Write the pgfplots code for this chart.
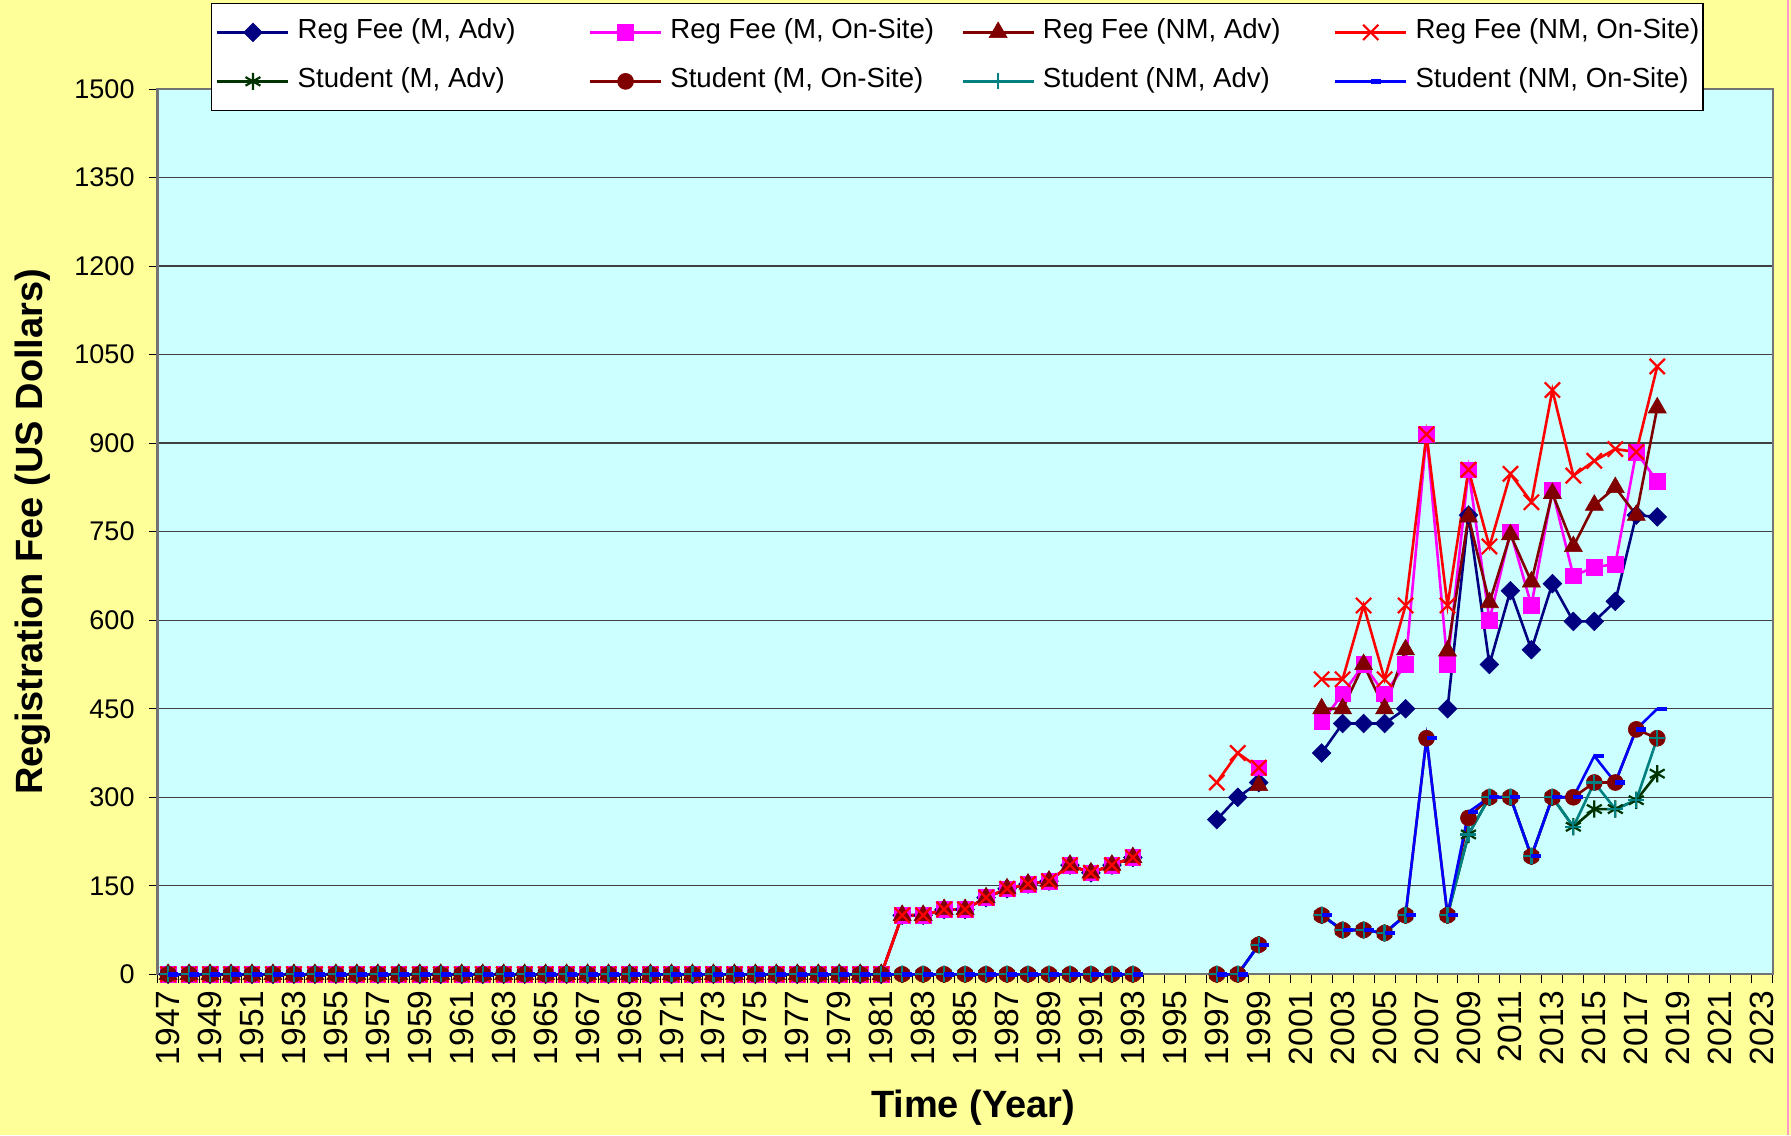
\documentclass[border=0pt]{standalone}
\usepackage{fontspec}
\setmainfont{Liberation Sans}
\usepackage{pgfplots}
\usepackage{pgfplotstable}
\pgfplotsset{compat=1.18}
\definecolor{bgyel}{HTML}{FFFF99}
\definecolor{plotbg}{HTML}{CCFFFF}
\definecolor{cnavy}{HTML}{000080}
\definecolor{cmag}{HTML}{FF00FF}
\definecolor{cmar}{HTML}{800000}
\definecolor{cred}{HTML}{FF0000}
\definecolor{cdg}{HTML}{003300}
\definecolor{cteal}{HTML}{008080}
\definecolor{cblue}{HTML}{0000FF}
\definecolor{cpink}{HTML}{FF99CC}
\pgfplotstableread{
year rma rmo rna rno sma smo sna sno
1947 0 0 0 0 0 0 0 0
1948 0 0 0 0 0 0 0 0
1949 0 0 0 0 0 0 0 0
1950 0 0 0 0 0 0 0 0
1951 0 0 0 0 0 0 0 0
1952 0 0 0 0 0 0 0 0
1953 0 0 0 0 0 0 0 0
1954 0 0 0 0 0 0 0 0
1955 0 0 0 0 0 0 0 0
1956 0 0 0 0 0 0 0 0
1957 0 0 0 0 0 0 0 0
1958 0 0 0 0 0 0 0 0
1959 0 0 0 0 0 0 0 0
1960 0 0 0 0 0 0 0 0
1961 0 0 0 0 0 0 0 0
1962 0 0 0 0 0 0 0 0
1963 0 0 0 0 0 0 0 0
1964 0 0 0 0 0 0 0 0
1965 0 0 0 0 0 0 0 0
1966 0 0 0 0 0 0 0 0
1967 0 0 0 0 0 0 0 0
1968 0 0 0 0 0 0 0 0
1969 0 0 0 0 0 0 0 0
1970 0 0 0 0 0 0 0 0
1971 0 0 0 0 0 0 0 0
1972 0 0 0 0 0 0 0 0
1973 0 0 0 0 0 0 0 0
1974 0 0 0 0 0 0 0 0
1975 0 0 0 0 0 0 0 0
1976 0 0 0 0 0 0 0 0
1977 0 0 0 0 0 0 0 0
1978 0 0 0 0 0 0 0 0
1979 0 0 0 0 0 0 0 0
1980 0 0 0 0 0 0 0 0
1981 0 0 0 0 0 0 0 0
1982 100 100 100 100 0 0 0 0
1983 100 100 100 100 0 0 0 0
1984 110 110 110 110 0 0 0 0
1985 110 110 110 110 0 0 0 0
1986 130 130 130 130 0 0 0 0
1987 145 145 145 145 0 0 0 0
1988 153 153 153 153 0 0 0 0
1989 158 158 158 158 0 0 0 0
1990 185 185 185 185 0 0 0 0
1991 172 172 172 172 0 0 0 0
1992 185 185 185 185 0 0 0 0
1993 198 198 198 198 0 0 0 0
1994 nan nan nan nan nan nan nan nan
1997 262 nan nan 325 0 0 0 0
1998 300 nan nan 375 0 0 0 0
1999 325 350 320 350 50 50 50 50
2000 nan nan nan nan nan nan nan nan
2002 375 428 450 500 100 100 100 100
2003 425 475 450 500 75 75 75 75
2004 425 525 525 625 75 75 75 75
2005 425 475 450 500 70 70 70 70
2006 450 525 550 625 100 100 100 100
2007 nan 915 nan 915 nan 400 nan 400
2008 450 525 548 625 100 100 100 100
2009 778 855 775 855 237 265 237 275
2010 525 600 630 725 300 300 300 300
2011 650 750 745 848 300 300 300 300
2012 550 625 665 800 200 200 200 200
2013 662 820 815 990 300 300 300 300
2014 598 675 725 845 250 300 250 300
2015 598 690 795 870 280 325 325 370
2016 632 695 825 890 280 325 280 325
2017 778 885 778 885 295 415 295 415
2018 775 835 960 1030 340 400 400 450
}\data
\begin{document}
\begin{tikzpicture}
\path[use as bounding box, fill=bgyel] (-78.8pt,-80.35pt) rectangle (816.7pt,487.15pt);
\draw[cpink, line width=1pt] (815.2pt,-80.35pt) -- (815.2pt,487.15pt);
\begin{axis}[
  at={(0pt,0pt)}, anchor=south west,
  scale only axis, width=807.5pt, height=442.6pt,
  xmin=1946.5, xmax=2023.5, ymin=0, ymax=1500,
  clip=false,
  unbounded coords=jump,
  axis background/.style={fill=plotbg},
  axis line style={draw=black!55, line width=1.1pt},
  tick pos=left, tick align=outside, major tick length=4.5pt,
  tick style={black, line width=0.5pt},
  ytick={0,150,...,1500},
  ymajorgrids, grid style={black!75, line width=0.7pt},
  xtick={1946.5,1947.5,...,2023.5},
  x tick label as interval,
  xticklabels={1947,,1949,,1951,,1953,,1955,,1957,,1959,,1961,,1963,,1965,,1967,,1969,,1971,,1973,,1975,,1977,,1979,,1981,,1983,,1985,,1987,,1989,,1991,,1993,,1995,,1997,,1999,,2001,,2003,,2005,,2007,,2009,,2011,,2013,,2015,,2017,,2019,,2021,,2023},
  xticklabel style={rotate=90, anchor=east, font=\fontsize{16.8}{18}\selectfont},
  yticklabel style={font=\fontsize{13.5}{16}\selectfont, xshift=-3.5pt},
  /pgf/number format/assume math mode=true,
  /pgf/number format/1000 sep={},
  xlabel={Time (Year)},
  ylabel={Registration Fee (US Dollars)},
  every axis x label/.style={at={(axis description cs:0.505,-0.151)}, anchor=center, font=\bfseries\fontsize{19}{22}\selectfont},
  every axis y label/.style={at={(axis description cs:-0.0772,0.5)}, anchor=center, rotate=90, font=\bfseries\fontsize{19}{22}\selectfont},
  legend columns=4,
  legend style={at={(axis description cs:0.0331,1.0975)}, anchor=north west,
    draw=black, line width=0.6pt, fill=white,
    inner xsep=2.25pt, inner ysep=7.75pt,
    font=\fontsize{13.8}{16}\selectfont,
    nodes={inner sep=0pt, text height=10pt, text depth=3.5pt},
    /tikz/every odd column/.append style={column sep=4pt},
    /tikz/every even column/.append style={column sep=4pt},
    row sep=11pt},
  legend image code/.code={\draw[mark repeat=2,mark phase=2,#1] plot coordinates {(0pt,0pt) (17.75pt,0pt) (35.5pt,0pt)};},
  every axis plot/.append style={line width=1.3pt},
]
\addplot[cnavy, mark=square*, mark size=3.3pt, mark options={solid, fill=cnavy, rotate=45, line width=0.3pt}] table[x=year, y=rma] {\data};
\addlegendentry{\makebox[141.5pt][l]{Reg Fee (M, Adv)}}
\addplot[cmag, mark=square*, mark size=3.9pt, mark options={solid, fill=cmag, line width=0.3pt}] table[x=year, y=rmo] {\data};
\addlegendentry{\makebox[141.5pt][l]{Reg Fee (M, On-Site)}}
\addplot[cmar, mark=triangle*, mark size=5.2pt, mark options={solid, fill=cmar, line width=0.3pt}] table[x=year, y=rna] {\data};
\addlegendentry{\makebox[141.5pt][l]{Reg Fee (NM, Adv)}}
\addplot[cred, mark=x, mark size=5.4pt, mark options={solid, line width=1.1pt}] table[x=year, y=rno] {\data};
\addlegendentry{\makebox[141.5pt][l]{Reg Fee (NM, On-Site)}}
\addplot[cdg, mark=asterisk, mark size=4.3pt, mark options={solid, line width=1.1pt}] table[x=year, y=sma] {\data};
\addlegendentry{\makebox[141.5pt][l]{Student (M, Adv)}}
\addplot[cmar, mark=*, mark size=4pt, mark options={solid, fill=cmar, line width=0.3pt}] table[x=year, y=smo] {\data};
\addlegendentry{\makebox[141.5pt][l]{Student (M, On-Site)}}
\addplot[cteal, mark=+, mark size=4pt, mark options={solid, line width=1.1pt}] table[x=year, y=sna] {\data};
\addlegendentry{\makebox[141.5pt][l]{Student (NM, Adv)}}
\addplot[cblue, mark=-, mark size=2.5pt, mark options={solid, xshift=2.5pt, line width=2.2pt}] table[x=year, y=sno] {\data};
\addlegendentry{\makebox[141.5pt][l]{Student (NM, On-Site)}}
\end{axis}
\end{tikzpicture}
\end{document}
